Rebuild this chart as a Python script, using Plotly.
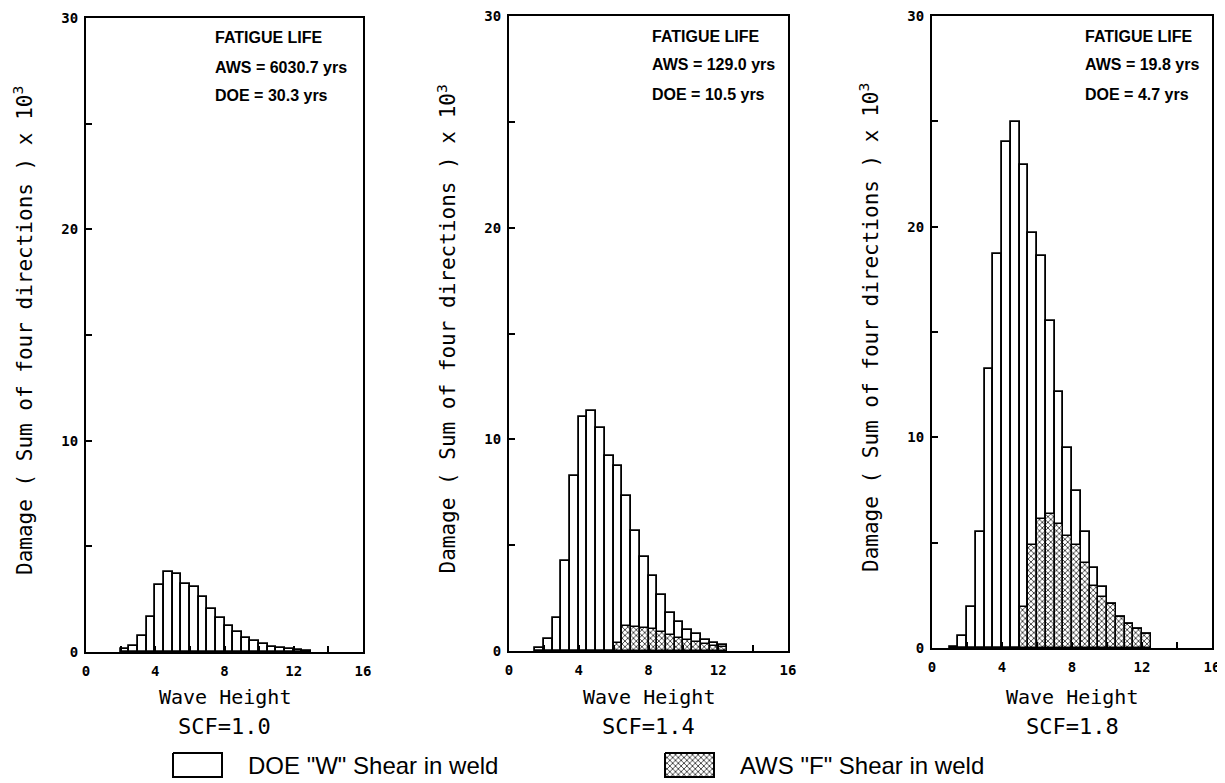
import plotly.graph_objects as go

W, H = 1225, 783

# Bin centres of wave-height classes (0.5 wide bins, 1.0-1.5 ... 12.5-13.0)
wave_height = [1.25, 1.75, 2.25, 2.75, 3.25, 3.75, 4.25, 4.75, 5.25, 5.75,
               6.25, 6.75, 7.25, 7.75, 8.25, 8.75, 9.25, 9.75, 10.25, 10.75,
               11.25, 11.75, 12.25, 12.75]

# Damage (sum of four directions) x 10^3 ; None = no bar drawn
doe_scf10 = [None, None, 0.12, 0.30, 0.78, 1.67, 3.17, 3.78, 3.70, 3.20,
             3.07, 2.58, 2.05, 1.59, 1.25, 0.95, 0.68, 0.53, 0.36, 0.25,
             0.20, 0.15, 0.10, 0.05]
aws_scf10 = [None] * 24

doe_scf14 = [None, 0.15, 0.57, 1.58, 4.24, 8.29, 11.07, 11.36, 10.54, 9.19,
             8.75, 7.32, 5.69, 4.43, 3.52, 2.64, 1.79, 1.37, 0.99, 0.78,
             0.53, 0.38, 0.30, None]
aws_scf14 = [None, None, None, None, None, None, None, None, None, None,
             0.38, 1.16, 1.14, 1.10, 1.05, 0.90, 0.75, 0.63, 0.53, 0.44,
             0.32, 0.23, 0.17, None]

doe_scf18 = [0.06, 0.59, 1.94, 5.53, 13.25, 18.70, 24.00, 24.98, 22.93, 19.72,
             18.63, 15.50, 12.17, 9.49, 7.45, 5.53, 3.80, 2.91, 2.07, 1.48,
             1.16, 0.89, 0.68, None]
aws_scf18 = [None, None, None, None, None, None, None, None, 1.94, 4.90,
             6.12, 6.37, 5.87, 5.32, 4.90, 4.05, 2.95, 2.43, 2.07, 1.48,
             1.16, 0.89, 0.68, None]

x_tickvals = [0, 4, 8, 12, 16]
y_tickvals = [0, 10, 20, 30]
scf_labels = ["SCF=1.0", "SCF=1.4", "SCF=1.8"]
aws_life = ["AWS = 6030.7 yrs", "AWS = 129.0 yrs", "AWS = 19.8 yrs"]
doe_life = ["DOE = 30.3 yrs", "DOE = 10.5 yrs", "DOE = 4.7 yrs"]
x_title = "Wave Height"
y_title = "Damage ( Sum of four directions ) x 10<sup>3</sup>"
legend_labels = ['DOE "W" Shear in weld', 'AWS "F" Shear in weld']

doe_series = [doe_scf10, doe_scf14, doe_scf18]
aws_series = [aws_scf10, aws_scf14, aws_scf18]

# panel frames in target-picture pixels (left, right, top, bottom)
frames = [(86, 363, 18, 652), (509, 788, 16, 651), (932, 1212, 16, 648)]
note_x = [213, 650, 1083]

MONO = "DejaVu Sans Mono"
SANS = "Liberation Sans, Arial, sans-serif"

pattern = dict(shape="x", size=4, solidity=0.32, fgcolor="black", bgcolor="white")

# the page adds an 8px body margin: compensate so pixels land where intended
OFF = 8

def px(x):
    return (x - OFF) / W

def py(y):
    return 1 - (y - OFF) / H

fig = go.Figure()
layout = dict(template="none", width=W, height=H, margin=dict(l=0, r=0, t=0, b=0, pad=0),
              paper_bgcolor="white", plot_bgcolor="rgba(0,0,0,0)", showlegend=False,
              barmode="overlay", bargap=0, annotations=[], shapes=[])

for i, (l, r, t, b) in enumerate(frames):
    n = "" if i == 0 else str(i + 1)
    xa, ya = "x" + n, "y" + n
    fig.add_trace(go.Bar(x=wave_height, y=doe_series[i], width=0.5, xaxis=xa, yaxis=ya,
                         marker=dict(color="white", line=dict(color="black", width=1.8)),
                         name=legend_labels[0]))
    fig.add_trace(go.Bar(x=wave_height, y=aws_series[i], width=0.5, xaxis=xa, yaxis=ya,
                         marker=dict(color="white", pattern=pattern,
                                     line=dict(color="black", width=1.5)),
                         name=legend_labels[1]))
    axcommon = dict(showline=True, mirror=True, linewidth=2, linecolor="black",
                    showgrid=False, zeroline=False, ticks="inside", ticklen=6,
                    tickwidth=2, tickcolor="black", automargin=False,
                    ticklabeloverflow="allow",
                    tickfont=dict(family=MONO, size=14, color="black"))
    layout["xaxis" + n] = dict(domain=[px(l), px(r)], range=[0, 16], anchor=ya,
                               tickmode="array", tickvals=x_tickvals,
                               ticktext=["<b>%d</b>" % v for v in x_tickvals],
                               minor=dict(dtick=2, ticks="inside", ticklen=6, tickwidth=2,
                                          tickcolor="black"),
                               ticklabelstandoff=5, **axcommon)
    layout["yaxis" + n] = dict(domain=[py(b), py(t)], range=[0, 30], anchor=xa,
                               tickmode="array", tickvals=y_tickvals,
                               ticktext=["<b>%d</b>" % v for v in y_tickvals],
                               minor=dict(dtick=5, ticks="inside", ticklen=6, tickwidth=2,
                                          tickcolor="black"),
                               ticklabelstandoff=3, **axcommon)
    cx = (l + r) / 2
    layout["annotations"] += [
        dict(text=x_title, x=px(cx), y=py(697), xref="paper", yref="paper",
             showarrow=False, xanchor="center", yanchor="middle",
             font=dict(family=MONO, size=20, color="black")),
        dict(text=scf_labels[i], x=px(cx), y=py(726), xref="paper", yref="paper",
             showarrow=False, xanchor="center", yanchor="middle",
             font=dict(family=MONO, size=22, color="black")),
        dict(text=y_title, x=px(l - 63), y=py((t + b) / 2 - 4), xref="paper", yref="paper",
             showarrow=False, xanchor="center", yanchor="middle", textangle=-90,
             font=dict(family=MONO, size=21, color="black")),
        dict(text="<b>FATIGUE LIFE</b>", x=px(note_x[i]), y=py(t + 20), xref="paper", yref="paper",
             showarrow=False, xanchor="left", yanchor="middle",
             font=dict(family=SANS, size=16, color="black")),
        dict(text="<b>" + aws_life[i] + "</b>", x=px(note_x[i]), y=py(t + 49), xref="paper",
             yref="paper", showarrow=False, xanchor="left", yanchor="middle",
             font=dict(family=SANS, size=16, color="black")),
        dict(text="<b>" + doe_life[i] + "</b>", x=px(note_x[i]), y=py(t + 78), xref="paper",
             yref="paper", showarrow=False, xanchor="left", yanchor="middle",
             font=dict(family=SANS, size=16, color="black")),
    ]

# Legend (drawn manually to reproduce the large swatches)
layout["xaxis4"] = dict(domain=[0, 1], range=[OFF, W + OFF], visible=False, anchor="y4",
                        fixedrange=True, automargin=False)
layout["yaxis4"] = dict(domain=[0, 1], range=[H + OFF, OFF], visible=False, anchor="x4",
                        fixedrange=True, automargin=False)
sw = [(173, 222), (665, 714)]
ly0, ly1 = 753, 777
for k, (a, c) in enumerate(sw):
    fig.add_trace(go.Scatter(x=[a, c, c, a, a], y=[ly0, ly0, ly1, ly1, ly0], xaxis="x4", yaxis="y4",
                             mode="lines", fill="toself", fillcolor="white",
                             fillpattern=pattern if k == 1 else None,
                             line=dict(color="black", width=2), hoverinfo="skip"))
    layout["annotations"].append(
        dict(text=legend_labels[k], x=px(c + 24), y=py((ly0 + ly1) / 2), xref="paper", yref="paper",
             showarrow=False, xanchor="left", yanchor="middle",
             font=dict(family=SANS, size=24, color="black")))

fig.update_layout(**layout)
fig.write_html("out.html")
